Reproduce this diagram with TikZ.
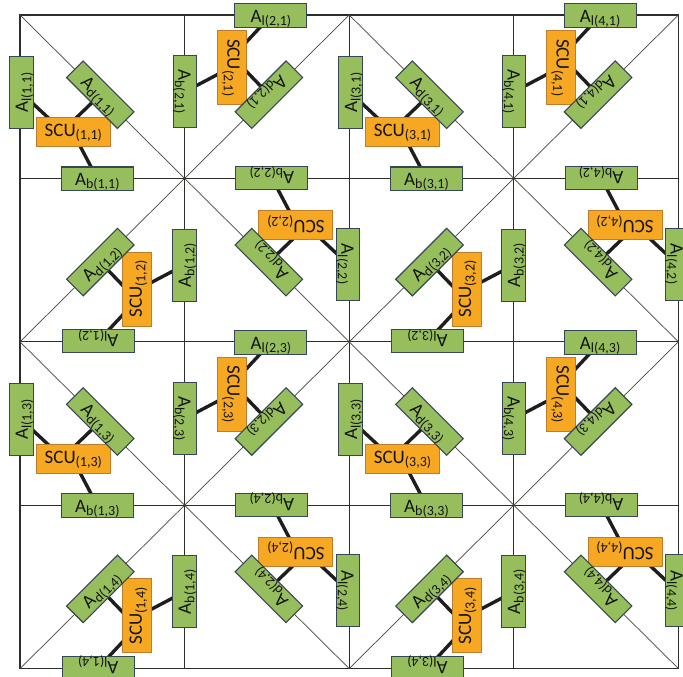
\documentclass[tikz,border=0pt]{standalone}
\usepackage{fontspec}
\setmainfont{Carlito}
\usetikzlibrary{calc}
\pgfdeclarelayer{under}
\pgfsetlayers{under,main}
\definecolor{antfill}{RGB}{150,190,92}
\definecolor{antline}{RGB}{55,70,85}
\definecolor{scufill}{RGB}{246,168,35}
\definecolor{sculine}{RGB}{190,125,45}
\definecolor{txt}{RGB}{20,20,20}
\definecolor{linkc}{RGB}{30,30,30}
\definecolor{gridc}{RGB}{45,45,45}
\definecolor{diagc}{RGB}{70,70,60}
\newcommand\lowtxt[1]{\raisebox{-3.5pt}{\fontsize{14}{14}\selectfont #1}}
\tikzset{
  antbox/.style={draw=antline, fill=antfill, line width=1.1pt, minimum width=72pt,
    minimum height=23.5pt, inner sep=0pt, text height=13pt, text depth=0pt,
    transform shape, text=txt, font=\fontsize{19}{20}\selectfont},
  scubox/.style={draw=sculine, fill=scufill, line width=1pt, minimum width=74pt,
    minimum height=29pt, inner sep=0pt, text height=12pt, text depth=3pt,
    transform shape, text=txt, font=\fontsize{19}{20}\selectfont},
  link/.style={line width=3.4pt, draw=linkc},
  gridline/.style={line width=1.3pt, draw=gridc, line cap=rect},
  diagline/.style={line width=0.7pt, draw=diagc},
}
\begin{document}
\begin{tikzpicture}[x=1pt,y=-1pt]
\useasboundingbox (0,0) rectangle (683,677);
\begin{pgfonlayer}{under}
  \fill[white] (0,0) rectangle (683,677);
  \foreach \k in {0,...,4} {
    \draw[gridline] (20+164.6*\k,15) -- (20+164.6*\k,668.6);
    \draw[gridline] (20,15+163.4*\k) -- (678.4,15+163.4*\k);
  }
  \foreach \bx in {0,1} {
    \foreach \by in {0,1} {
      \draw[diagline] (20+329.2*\bx,15+326.8*\by) -- (349.2+329.2*\bx,341.8+326.8*\by);
      \draw[diagline] (349.2+329.2*\bx,15+326.8*\by) -- (20+329.2*\bx,341.8+326.8*\by);
    }
  }
\end{pgfonlayer}
\foreach \i in {1,...,4} {
  \foreach \j in {1,...,4} {
    \pgfmathsetmacro\ang{ifthenelse(isodd(\i),ifthenelse(isodd(\j),0,90),ifthenelse(isodd(\j),-90,180))}
    \pgfmathsetmacro\cx{20+164.6*(\i-0.5)}
    \pgfmathsetmacro\cy{15+163.4*(\j-0.5)}
    \begin{scope}[shift={(\cx,\cy)}, rotate=\ang]
      \node[scubox] (scu\i\j) at (-29,35) {SCU\lowtxt{(\i,\j)}};
      \node[antbox, rotate=90] (al\i\j) at (-81,-4) {A\lowtxt{l(\i,\j)}};
      \node[antbox, rotate=-45] (ad\i\j) at (-2,-2) {A\lowtxt{d(\i,\j)}};
      \node[antbox] (ab\i\j) at (-5,82) {A\lowtxt{b(\i,\j)}};
      \begin{pgfonlayer}{under}
        \draw[link, shorten >=-6pt] (al\i\j.center) -- ($(scu\i\j.north)!0.70!(scu\i\j.north west)$);
        \draw[link, shorten >=-6pt] (ad\i\j.center) -- ($(scu\i\j.north)!0.11!(scu\i\j.north east)$);
        \draw[link, shorten >=-6pt] (ab\i\j.center) -- ($(scu\i\j.south)!0.19!(scu\i\j.south east)$);
      \end{pgfonlayer}
    \end{scope}
  }
}
\end{tikzpicture}
\end{document}
